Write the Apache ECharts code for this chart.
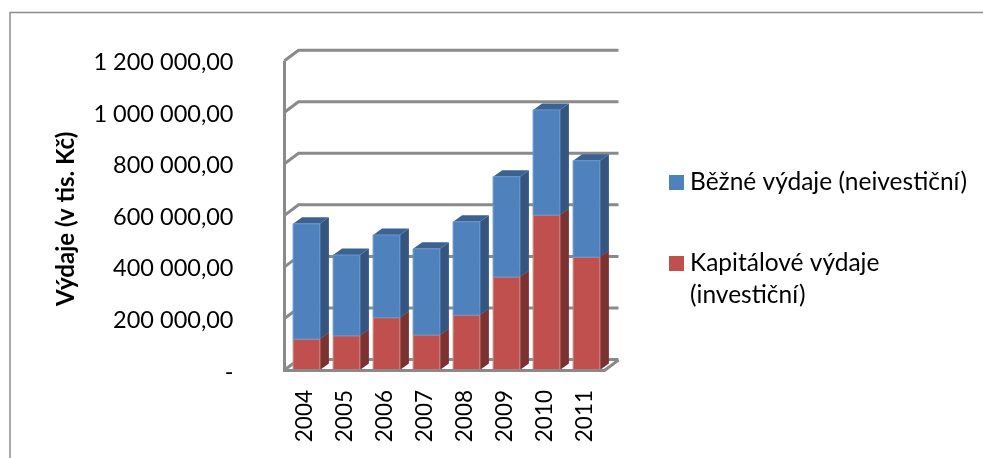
<!DOCTYPE html>
<html><head><meta charset="utf-8">
<style>html,body{margin:0;padding:0;background:#fff}#c{width:983px;height:458px}</style>
<script src="https://cdn.jsdelivr.net/npm/echarts@6/dist/echarts.min.js"></script>
</head><body><div id="c"></div>
<script>
const categories = ['2004','2005','2006','2007','2008','2009','2010','2011'];
const capital = [120000,133000,203000,136000,213000,361000,601000,438000];
const current = [447000,313000,321000,334000,362000,389000,408000,374000];
const yTicks = [0,200000,400000,600000,800000,1000000,1200000];
const nameCurrent = 'Běžné výdaje (neivestiční)';
const nameCapital = 'Kapitálové výdaje (investiční)';
const FONT = 'Lato';

function fmt(v){
  if(v===0) return '-';
  return String(v).replace(/\B(?=(\d{3})+$)/g,' ')+',00';
}
const gridColor='#8a8a8a';
const WALL_DX=14, WALL_DY=-10.5, BAR_DX=9, BAR_DY=-6.5, BAR_SHIFT=2;

function gridItem(params,api){
  const c=params.coordSys;
  const v=api.value(0);
  const p=api.coord([0,v]);
  const y=p[1], x0=c.x, x1=c.x+c.width;
  const lineStyle={stroke:gridColor,lineWidth:3,fill:null};
  const kids=[
    {type:'polyline',shape:{points:[[x0,y],[x0+WALL_DX,y+WALL_DY],[x1+WALL_DX,y+WALL_DY]]},style:lineStyle}
  ];
  if(params.dataIndex===yTicks.length-1){
    const b=api.coord([0,0]);
    kids.push({type:'line',shape:{x1:x0,y1:b[1],x2:x0,y2:y},style:lineStyle});
  }
  return {type:'group',children:kids};
}
function floorItem(params,api){
  const c=params.coordSys;
  const y=api.coord([0,0])[1]+0.5, x0=c.x-1.5, x1=c.x+c.width;
  return {type:'polyline',shape:{points:[[x0,y],[x1,y],[x1+WALL_DX,y+WALL_DY]]},style:{stroke:gridColor,lineWidth:3,fill:null}};
}
function barRenderer(front,side,top,edge){
  return function(params,api){
    const idx=api.value(0), lo=api.value(1), hi=api.value(2);
    const a=api.coord([idx,lo]), b=api.coord([idx,hi]);
    const w=api.size([1,0])[0]*0.67;
    const xl=a[0]-w/2+BAR_SHIFT, xr=xl+w, yb=a[1], yt=b[1];
    return {type:'group',children:[
      {type:'polygon',shape:{points:[[xr,yb],[xr+BAR_DX,yb+BAR_DY],[xr+BAR_DX,yt+BAR_DY],[xr,yt]]},style:{fill:side}},
      {type:'polygon',shape:{points:[[xl,yt],[xl+BAR_DX,yt+BAR_DY],[xr+BAR_DX,yt+BAR_DY],[xr,yt]]},style:{fill:top}},
      {type:'rect',shape:{x:xl,y:yt,width:w,height:yb-yt},style:{fill:front,stroke:edge,lineWidth:1}}
    ]};
  };
}
const capData=categories.map((_,i)=>[i,0,capital[i]]);
const curData=categories.map((_,i)=>[i,capital[i],capital[i]+current[i]]);

const chart=echarts.init(document.getElementById('c'),null,{renderer:'canvas'});
chart.setOption({
  animation:false,
  textStyle:{fontFamily:FONT},
  grid:{left:284.5,right:378.5,top:60.7,bottom:88,containLabel:false},
  xAxis:{type:'category',data:categories,boundaryGap:true,
    axisLine:{show:false},axisTick:{show:false},splitLine:{show:false},
    axisLabel:{rotate:90,margin:20,fontSize:22.5,color:'#000',fontFamily:FONT,interval:0}},
  yAxis:{type:'value',min:0,max:1200000,interval:200000,
    axisLine:{show:false},axisTick:{show:false},splitLine:{show:false},
    axisLabel:{margin:51,fontSize:23.5,color:'#000',fontFamily:FONT,formatter:fmt,verticalAlign:'top',lineHeight:4},
    name:'Výdaje (v tis. Kč)',nameLocation:'middle',nameGap:206,nameRotate:90,
    nameTextStyle:{fontSize:24,fontWeight:'bold',color:'#000',fontFamily:FONT,padding:[0,7,0,0]}},
  legend:[
    {data:[nameCurrent],left:669,top:167.5,padding:0,orient:'vertical',icon:'rect',itemWidth:15,itemHeight:15,itemGap:0,
     selectedMode:false,textStyle:{fontSize:24.5,color:'#000',fontFamily:FONT,lineHeight:30,padding:[0,0,0,1]}},
    {data:[nameCapital],left:669,top:215.5,padding:0,orient:'vertical',icon:'rect',itemWidth:15,itemHeight:15,itemGap:0,
     selectedMode:false,textStyle:{fontSize:24.5,color:'#000',fontFamily:FONT,lineHeight:32,padding:[0,0,0,1]},
     formatter:()=> '\nKapitálové výdaje\n(investiční)'}
  ],
  graphic:[{type:'polyline',silent:true,shape:{points:[[10,458],[10,12.5],[983,12.5]]},style:{stroke:'#8c8c8c',lineWidth:1.5,fill:null}}],
  series:[
    {type:'custom',name:'mriezka',data:yTicks.map(v=>[v]),renderItem:gridItem,encode:{y:0},silent:true,z:1,clip:false},
    {type:'custom',name:nameCapital,data:capData,renderItem:barRenderer('#C0504D','#7B3230','#8F3C3A','#D08C8A'),
      encode:{x:0,y:[1,2]},itemStyle:{color:'#C0504D'},z:2,clip:false},
    {type:'custom',name:nameCurrent,data:curData,renderItem:barRenderer('#4F81BD','#34557F','#3C6292','#6C97CC'),
      encode:{x:0,y:[1,2]},itemStyle:{color:'#4F81BD'},z:3,clip:false},
    {type:'custom',name:'podlaha',data:[[0]],renderItem:floorItem,encode:{y:0},silent:true,z:4,clip:false}
  ]
});
</script></body></html>
